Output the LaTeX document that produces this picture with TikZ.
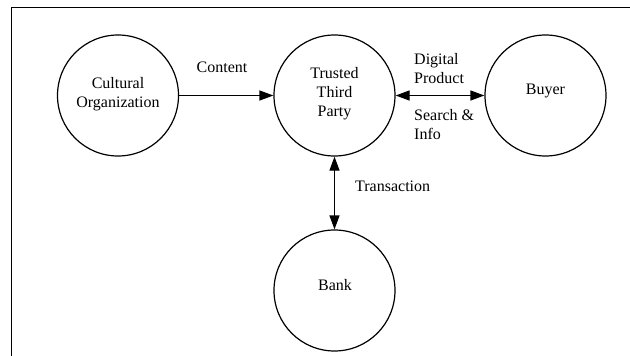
\documentclass[tikz,border=0pt]{standalone}
\usepackage{fontspec}
\setmainfont{Liberation Serif}
\usetikzlibrary{arrows.meta}
\begin{document}
\begin{tikzpicture}[x=1pt, y=-1pt,
        party/.style={draw, circle, line width=1.2pt, minimum size=121pt, inner sep=0pt},
        partyname/.style={inner sep=0pt, align=center, anchor=north, font=\fontsize{16}{19}\selectfont},
        lbl/.style={inner sep=0pt, align=left, font=\fontsize{16}{19}\selectfont},
        flow/.style={line width=1.2pt, -{Triangle[length=14pt, width=10pt]}},
        flows/.style={line width=1.2pt, {Triangle[length=14pt, width=10pt]}-{Triangle[length=14pt, width=10pt]}}]
    \useasboundingbox (0,0) rectangle (630,356);
    % frame, cut at the right and the bottom
    \draw[line width=1.5pt] (630,7.5) -- (11.5,7.5) -- (11.5,356);
    % the four parties
    \node[party] (org) at (118,95.5) {};
    \node[party] (ttp) at (334.5,95.5) {};
    \node[party] (buyer) at (545.5,95.5) {};
    \node[party] (bank) at (334.5,290.5) {};
    \node[partyname] (org-name) at (118,77.3) {Cultural\\Organization};
    \node[partyname] (ttp-name) at (334.5,66.7) {Trusted\\Third\\Party};
    \node[partyname] (buyer-name) at (545.5,84) {Buyer};
    \node[partyname] (bank-name) at (335,279.3) {Bank};
    % flows between them
    \draw[flow] (org) -- (ttp);
    \draw[flows] (ttp) -- (buyer);
    \draw[flows] (ttp) -- (bank);
    \node[lbl, anchor=north] (content) at (222,61.7) {Content};
    \node[lbl, anchor=north west] (product) at (414,53.5) {Digital\\Product};
    \node[lbl, anchor=north west] (search) at (414,109) {Search \&\\Info};
    \node[lbl, anchor=north west] (transaction) at (355,181) {Transaction};
\end{tikzpicture}
\end{document}
